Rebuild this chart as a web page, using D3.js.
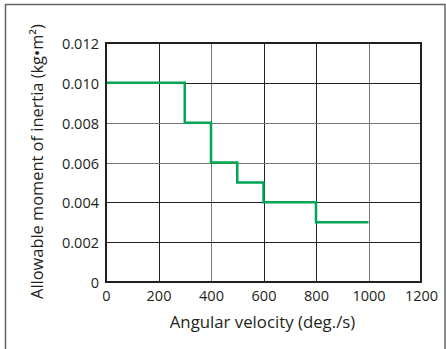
<!DOCTYPE html>
<html><head><meta charset="utf-8">
<script src="https://cdn.jsdelivr.net/npm/d3@7"></script>
<style>body{margin:0;background:#fff}svg{display:block}text{font-family:"Open Sans","Noto Sans",sans-serif;fill:#231f20}</style>
</head><body>
<svg id="c" width="446" height="349"></svg>
<script>
const velocity = [0, 300, 400, 500, 600, 800, 1000];
const inertia = [0.010, 0.008, 0.006, 0.005, 0.004, 0.003, 0.003];
const xTicks = [0, 200, 400, 600, 800, 1000, 1200];
const yTicks = [0, 0.002, 0.004, 0.006, 0.008, 0.010, 0.012];
const yTickLabels = ["0", "0.002", "0.004", "0.006", "0.008", "0.010", "0.012"];
const xTitle = "Angular velocity (deg./s)";
const yTitle = "Allowable moment of inertia (kg\u2022m\u00B2)";

const svg = d3.select("#c");
const L = 106, R = 421, T = 43, B = 282;
const x = d3.scaleLinear().domain([0, 1200]).range([L, R]);
const y = d3.scaleLinear().domain([0, 0.012]).range([B, T]);

// outer frame
svg.append("rect").attr("x", 5.5).attr("y", 4.5).attr("width", 439.5).attr("height", 350)
  .attr("fill", "none").attr("stroke", "#666").attr("stroke-width", 1.5);

// grid
const lighter = new Set([400, 1000]);
const lighterY = new Set([0.006, 0.008]);
svg.append("g").selectAll("line").data(xTicks.filter(d => d > 0 && d < 1200)).join("line")
  .attr("x1", d => Math.round(x(d)) + 0.5).attr("x2", d => Math.round(x(d)) + 0.5)
  .attr("y1", T).attr("y2", B)
  .attr("stroke", d => lighter.has(d) ? "#777" : "#222").attr("stroke-width", 1);
svg.append("g").selectAll("line").data(yTicks.filter(d => d > 0 && d < 0.012)).join("line")
  .attr("y1", d => Math.round(y(d)) + 0.5).attr("y2", d => Math.round(y(d)) + 0.5)
  .attr("x1", L).attr("x2", R)
  .attr("stroke", d => lighterY.has(d) ? "#777" : "#222").attr("stroke-width", 1);

// step line
const pts = velocity.map((v, i) => [v, inertia[i]]);
svg.append("path").datum(pts)
  .attr("d", d3.line().x(d => x(d[0])).y(d => y(d[1])).curve(d3.curveStepAfter))
  .attr("fill", "none").attr("stroke", "#00a651").attr("stroke-width", 2.5);

// plot frame
svg.append("rect").attr("x", L).attr("y", T).attr("width", R - L).attr("height", B - T)
  .attr("fill", "none").attr("stroke", "#231f20").attr("stroke-width", 2);

// axes labels
const xAxis = d3.axisBottom(x).tickValues(xTicks).tickSize(0).tickPadding(9).tickFormat(d3.format("d"));
const gx = svg.append("g").attr("transform", `translate(0,${B})`).call(xAxis);
gx.select(".domain").remove();
gx.selectAll("text").attr("font-size", 14.5).attr("fill", "#231f20").style("font-family", '"Open Sans",sans-serif');

const yAxis = d3.axisLeft(y).tickValues(yTicks).tickSize(0).tickPadding(7).tickFormat((d, i) => yTickLabels[i]);
const gy = svg.append("g").attr("transform", `translate(${L},1)`).call(yAxis);
gy.select(".domain").remove();
gy.selectAll("text").attr("font-size", 14.5).attr("fill", "#231f20").style("font-family", '"Open Sans",sans-serif');

svg.append("text").attr("x", (L + R) / 2 - 1).attr("y", 328).attr("text-anchor", "middle")
  .attr("font-size", 16.8).text(xTitle);
svg.append("text").attr("transform", `translate(43,${161.5}) rotate(-90)`).attr("text-anchor", "middle")
  .attr("font-size", 16.4).text(yTitle);
</script>
</body></html>
